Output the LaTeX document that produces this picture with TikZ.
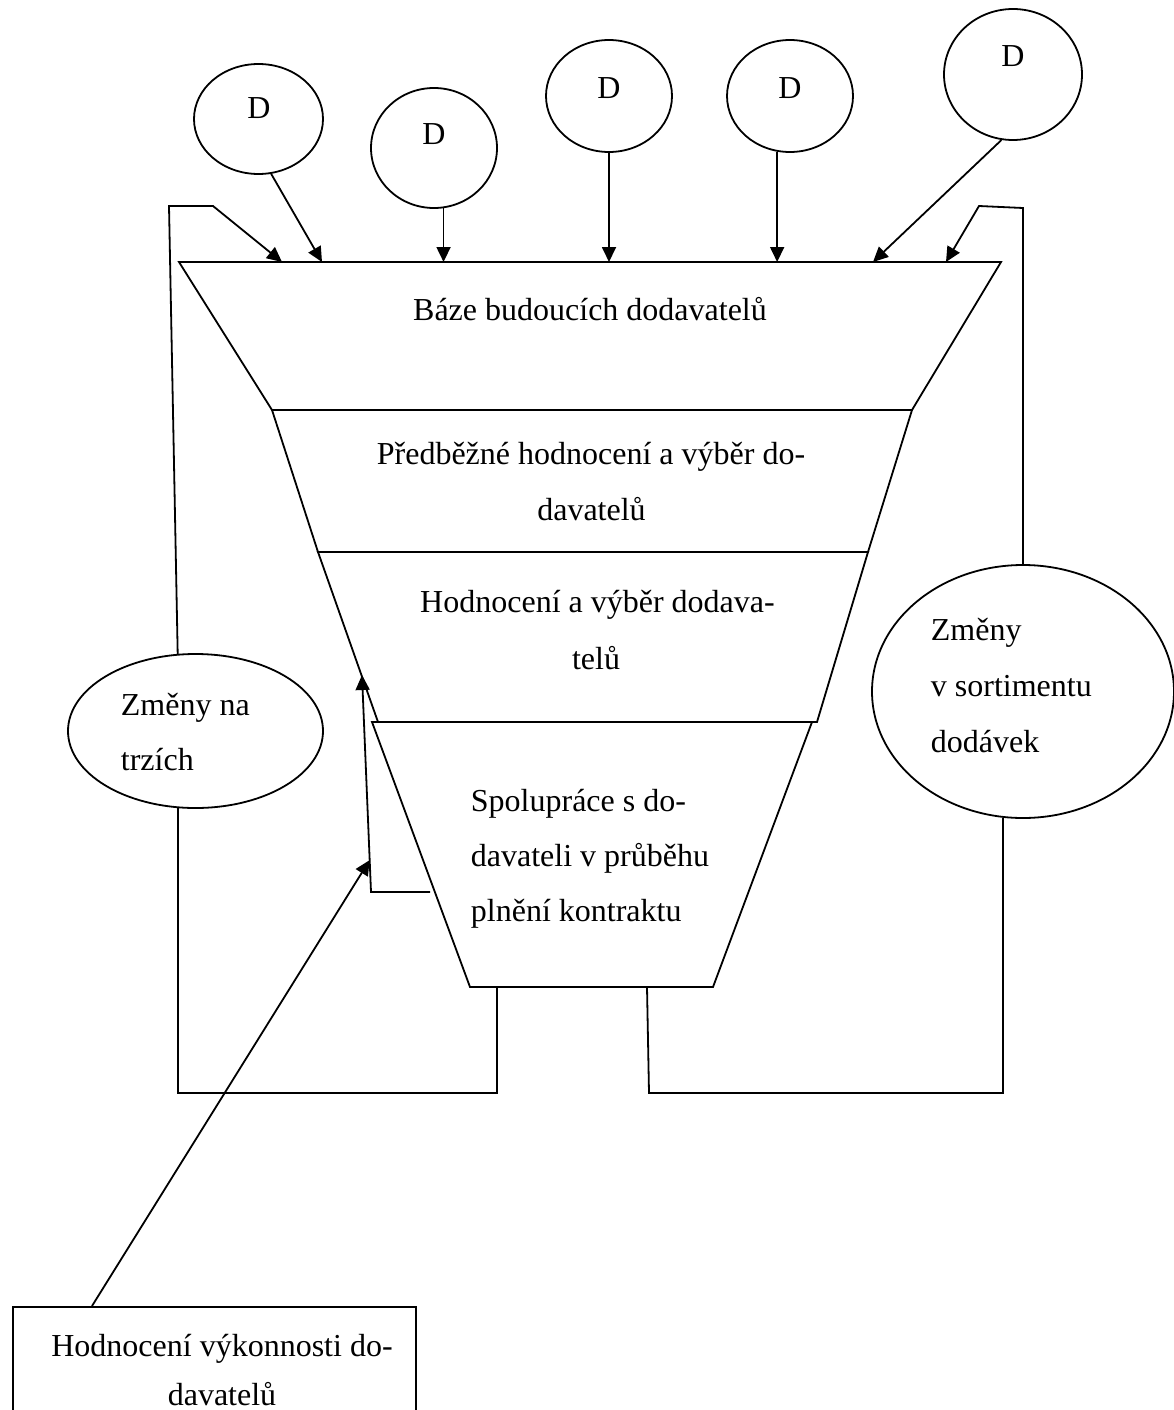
\documentclass[tikz,border=0pt]{standalone}
\usepackage{fontspec}
\setmainfont{Liberation Serif}
\usetikzlibrary{arrows.meta,shapes.geometric,calc}
\begin{document}
\begin{tikzpicture}[x=1pt,y=-1pt,
  line width=1.8pt, line join=miter,
  every node/.style={font=\fontsize{32}{56}\selectfont, inner sep=0pt},
  arr/.style={-{Triangle[length=15pt,width=14pt]}},
  oval/.style={draw, ellipse, inner sep=0pt},
  txt/.style={anchor=base},
  txtl/.style={anchor=base west}]
\useasboundingbox (0,0) rectangle (1173,1410);

% supplier ovals
\node[oval, minimum width=129, minimum height=110] (d1) at (258.5,119) {};
\node[oval, minimum width=126, minimum height=120] (d2) at (434,148) {};
\node[oval, minimum width=126, minimum height=112] (d3) at (609,96) {};
\node[oval, minimum width=126, minimum height=112] (d4) at (790,96) {};
\node[oval, minimum width=138, minimum height=131] (d5) at (1013,74.5) {};
\node[txt] (dt1) at (259,118) {D};
\node[txt] (dt2) at (434,144) {D};
\node[txt] (dt3) at (609,98.5) {D};
\node[txt] (dt4) at (790,98.5) {D};
\node[txt] (dt5) at (1013,67) {D};

% funnel
\coordinate (a1) at (179,262);  \coordinate (a2) at (1001,262);
\coordinate (b1) at (272,410);  \coordinate (b2) at (912,410);
\coordinate (c1) at (318,552);  \coordinate (c2) at (868,552);
\coordinate (e1) at (378,722);  \coordinate (e2) at (817,722);
\coordinate (f1) at (372,722);  \coordinate (f2) at (812,722);
\coordinate (g1) at (470,987);  \coordinate (g2) at (713,987);
\draw (a1) -- (a2) -- (b2) -- (b1) -- cycle;
\draw (b1) -- (b2) -- (c2) -- (c1) -- cycle;
\draw (c1) -- (c2) -- (e2) -- (e1) -- cycle;
\draw (f1) -- (f2) -- (g2) -- (g1) -- cycle;

\node[txt] (t1) at (590,320.7) {Báze budoucích dodavatelů};
\node[txt] (t2a) at (591,464) {Předběžné hodnocení a výběr do-};
\node[txt] (t2b) at (591.5,520.7) {davatelů};
\node[txt] (t3a) at (597.5,612.7) {Hodnocení a výběr dodava-};
\node[txt] (t3b) at (596,669) {telů};
\node[txtl] (t4a) at (470,811) {Spolupráce s do-};
\node[txtl] (t4b) at (470,866.7) {davateli v průběhu};
\node[txtl] (t4c) at (470,921.7) {plnění kontraktu};

% side ovals
\node[oval, minimum width=255, minimum height=154] (zl) at (195.5,731) {};
\node[oval, minimum width=302, minimum height=253] (zr) at (1023,691.5) {};
\node[txtl] (zlt1) at (120,715) {Změny na};
\node[txtl] (zlt2) at (120,770.7) {trzích};
\node[txtl] (zrt1) at (930,640) {Změny};
\node[txtl] (zrt2) at (930,696.7) {v sortimentu};
\node[txtl] (zrt3) at (930,752) {dodávek};

% bottom box
\node[draw, rectangle, minimum width=403, minimum height=140, anchor=north west] (hv) at (12,1306) {};
\node[txt] (hvt1) at (222,1356.7) {Hodnocení výkonnosti do-};
\node[txt] (hvt2) at (222,1405.7) {davatelů};

% arrows from suppliers
\coordinate (p1) at (282,262);
\coordinate (p2) at (322,262);
\coordinate (p5) at (873,262);
\coordinate (p6) at (946,262);
\draw[arr] (d1.-77) -- (p2);
\draw[arr] (d2.-81) -- (d2.-81 |- a1);
\draw[arr] (d3.south) -- (d3.south |- a1);
\draw[arr] (d4.-103) -- (d4.-103 |- a1);
\draw[arr] (d5.-100) -- (p5);

% left feedback loop
\coordinate (l1) at (169,206);
\coordinate (l2) at (213,206);
\draw[arr] (zl.103) -- (l1) -- (l2) -- (p1);
\coordinate (q1) at (497,987);
\coordinate (q2) at (497,1093);
\draw (q1) -- (q2) -- (zl.-103 |- q2) -- (zl.-103);

% right feedback loop
\coordinate (r1) at (647,987);
\coordinate (r2) at (649,1093);
\draw (r1) -- (r2) -- (zr.-99.5 |- r2) -- (zr.-99.5);
\coordinate (r5) at (1023,208);
\coordinate (r6) at (979,206);
\draw[arr] (zr.north) -- (zr.north |- r5) -- (r6) -- (p6);

% evaluation feedback
\coordinate (s1) at (371,892);
\coordinate (s2) at (430,892);
\coordinate (s3) at (362,675);
\draw[arr] (s2) -- (s1) -- (s3);
\coordinate (s4) at ($(s1)!0.147!(s3)$);
\draw[arr] ($(hv.north west)+(80,0)$) -- (s4);
\end{tikzpicture}
\end{document}
